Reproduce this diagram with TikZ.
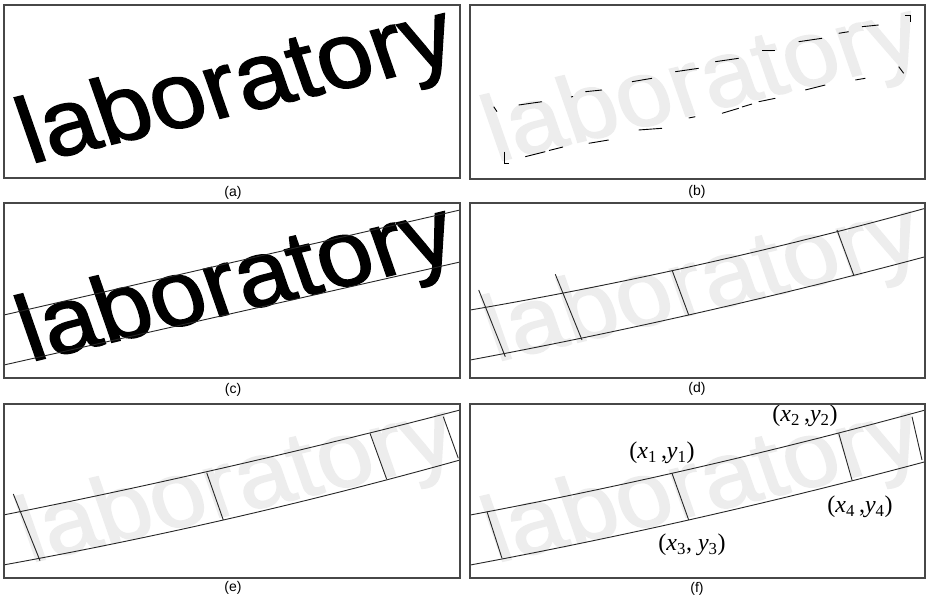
\documentclass[tikz,border=0pt]{standalone}
\usepackage{fontspec}
\setmainfont{Liberation Serif}
\setsansfont{Liberation Sans}
\newfontfamily\wordfont{Liberation Sans}[FakeBold=1.5]
\usetikzlibrary{calc}
\tikzset{
  panel/.style={draw=black!72, line width=1.4pt},
  word/.style={anchor=base west, rotate=13.5, xslant=-0.1, xscale=1.06, inner sep=0pt, font=\wordfont\fontsize{94}{94}\selectfont},
  ink/.style={word, text=black},
  ghost/.style={word, text=black!7},
  plabel/.style={font=\sffamily\fontsize{14}{14}\selectfont, inner sep=0pt},
  guide/.style={line width=0.9pt, draw=black!85},
  frag/.style={line width=0.9pt, draw=black},
  ptlabel/.style={font=\fontsize{24}{24}\selectfont, inner sep=0pt},
}
\newcommand{\quadcurve}[3]{(#1) .. controls ($(#1)!2/3!(#2)$) and ($(#3)!2/3!(#2)$) .. (#3)}
\newcommand{\ptxy}[1]{(\textit{x}\textsubscript{#1}\,,\textit{y}\textsubscript{#1})}
\begin{document}
\begin{tikzpicture}[x=1pt,y=-1pt]
\useasboundingbox[fill=white] (0,0) rectangle (927,601);

% ---------- (a)
\node[ink] (wa) at (30,164) {laboratory};
\draw[panel] (4,5) rectangle (460,178);
\node[plabel] (la) at (233,193) {(a)};

% ---------- (b)
\node[ghost] (wb) at (496,162) {laboratory};
\foreach \p/\q in {
  {525.3,156.7}/{545.3,151.7}, {549,150.5}/{563,147}, {588.7,143.3}/{608.7,140},
  {638.7,130}/{662,128.3}, {688.7,118}/{695.3,116.7}, {722,113.3}/{738.7,108.3},
  {742,107}/{752,104}, {758.7,101.7}/{775.3,98.3}, {805.3,90}/{825.3,85},
  {855.3,80}/{865.3,78.3}, {898.7,66.7}/{903.7,73.3},
  {493.7,106.7}/{497,111.7}, {518.7,105}/{542,101.7}, {571,97}/{573,96.5},
  {585.3,91.7}/{602,90}, {632,81.7}/{652,78.3}, {675.3,71.7}/{698.7,68.3},
  {715.3,61.7}/{738.7,58.3}, {762,50}/{775.3,50}, {798.7,41.7}/{822,38.3},
  {838.7,33.3}/{848.7,31.7}, {862,26.7}/{878.7,25}}
  \draw[frag] (\p) -- (\q);
\draw[frag] (504.7,151.7) -- (504.7,163.3) -- (508.7,163.3);
\draw[frag] (905.3,15) -- (910.3,15) -- (910.3,21.7);
\draw[panel] (470,5) rectangle (925,179);
\node[plabel] (lb) at (697,192) {(b)};

% ---------- (c)
\node[ink] (wc) at (30,362) {laboratory};
\coordinate (c1a) at (4,315); \coordinate (c1b) at (460,210);
\coordinate (c2a) at (4,365); \coordinate (c2b) at (460,262);
\draw[guide] (c1a) -- (c1b);
\draw[guide] (c2a) -- (c2b);
\draw[panel] (4,203) rectangle (460,378);
\node[plabel] (lc) at (233,390) {(c)};

% ---------- (d)
\node[ghost] (wd) at (496,362) {laboratory};
\coordinate (du0) at (470.3,310); \coordinate (duc) at (697.8,270.9); \coordinate (du1) at (925.3,208.3);
\coordinate (dl0) at (470.3,360); \coordinate (dlc) at (697.8,317.5); \coordinate (dl1) at (925.3,256.7);
\draw[guide] \quadcurve{du0}{duc}{du1};
\draw[guide] \quadcurve{dl0}{dlc}{dl1};
\foreach \p/\q in {{478.7,290}/{505.3,356.7}, {555.3,274.3}/{582,340},
                   {672,270}/{688.7,315}, {837,230}/{853.7,275}}
  \draw[guide] (\p) -- (\q);
\draw[panel] (470,203) rectangle (925,378);
\node[plabel] (ld) at (697,389) {(d)};

% ---------- (e)
\node[ghost] (we) at (30,563) {laboratory};
\coordinate (eu0) at (3.3,515); \coordinate (euc) at (231.65,469.5); \coordinate (eu1) at (460,410);
\coordinate (el0) at (3.3,565); \coordinate (elc) at (231.65,523.7); \coordinate (el1) at (460,460);
\draw[guide] \quadcurve{eu0}{euc}{eu1};
\draw[guide] \quadcurve{el0}{elc}{el1};
\foreach \p/\q in {{13.3,494}/{40,560.7}, {206.7,472.7}/{223.3,520},
                   {370,433.3}/{386.7,479.3}, {443.3,416.7}/{458.3,458.3}}
  \draw[guide] (\p) -- (\q);
\draw[panel] (4,404) rectangle (460,578);
\node[plabel] (le) at (233,588) {(e)};

% ---------- (f)
\node[ghost] (wf) at (496,563) {laboratory};
\coordinate (fu0) at (470.3,515); \coordinate (fuc) at (697.8,472.3); \coordinate (fu1) at (925.3,410);
\coordinate (fl0) at (470.3,565); \coordinate (flc) at (697.8,522.5); \coordinate (fl1) at (925.3,461.7);
\draw[guide] \quadcurve{fu0}{fuc}{fu1};
\draw[guide] \quadcurve{fl0}{flc}{fl1};
\foreach \p/\q in {{487,511.7}/{502,558.3}, {672,473.3}/{688.7,520},
                   {838.7,433.3}/{852,480}, {912,416.7}/{922,460}}
  \draw[guide] (\p) -- (\q);
\node[ptlabel] (p2) at (805,416) {\ptxy{2}};
\node[ptlabel] (p1) at (662,453) {\ptxy{1}};
\node[ptlabel] (p4) at (860,507) {\ptxy{4}};
\node[ptlabel] (p3) at (692,545) {(\textit{x}\textsubscript{3}, \textit{y}\textsubscript{3})};
\draw[panel] (470,404) rectangle (925,578);
\node[plabel] (lf) at (697,589) {(f)};
\end{tikzpicture}
\end{document}
